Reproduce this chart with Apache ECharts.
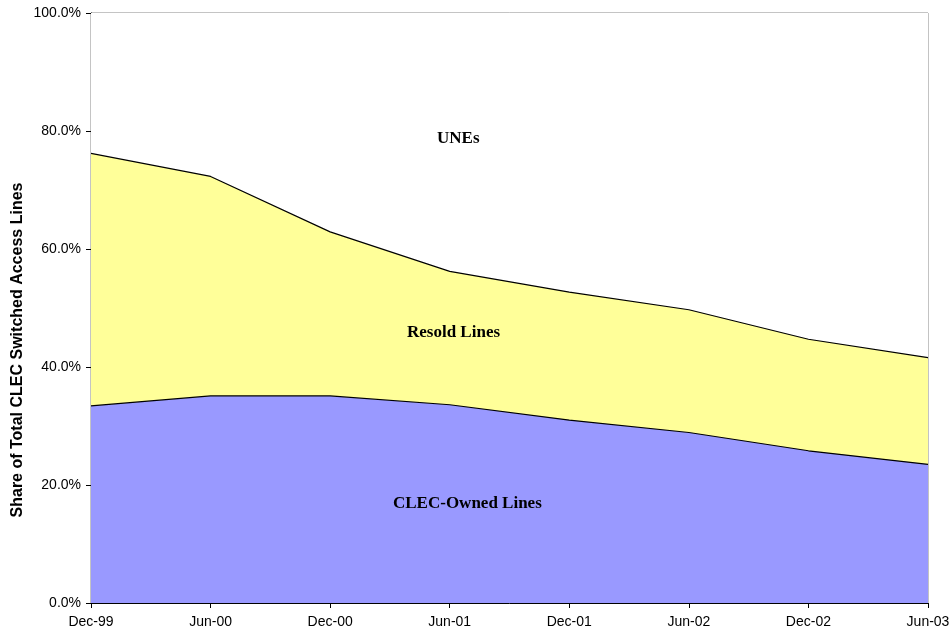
<!DOCTYPE html>
<html>
<head>
<meta charset="utf-8">
<script src="https://cdn.jsdelivr.net/npm/echarts@6/dist/echarts.min.js"></script>
<style>
  html, body { margin: 0; padding: 0; background: #fff; }
  #chart { width: 950px; height: 631px; }
</style>
</head>
<body>
<div id="chart"></div>
<script>
const categories = ['Dec-99', 'Jun-00', 'Dec-00', 'Jun-01', 'Dec-01', 'Jun-02', 'Dec-02', 'Jun-03'];
// share of total CLEC switched access lines, in %
const clecOwned = [33.4, 35.1, 35.1, 33.6, 31.0, 28.9, 25.8, 23.5];
const resold    = [42.8, 37.2, 27.8, 22.6, 21.7, 20.8, 18.9, 18.1];
const unes      = [23.8, 27.7, 37.1, 43.8, 47.3, 50.3, 55.3, 58.4];

const chart = echarts.init(document.getElementById('chart'), null, { renderer: 'canvas' });

// area labels sit inside the plot, drawn on top of the series
function areaLabel(text, x, y) {
  return {
    type: 'text', x: x, y: y, z: 100,
    style: {
      text: text, fontFamily: 'Liberation Serif', fontWeight: 'bold', fontSize: 17, fill: '#000',
      verticalAlign: 'middle'
    }
  };
}

chart.setOption({
  animation: false,
  grid: {
    left: 91, right: 22, top: 13, bottom: 28, containLabel: false, outerBoundsMode: 'none',
    show: true, borderColor: '#888', borderWidth: 1
  },
  xAxis: {
    type: 'category', data: categories, boundaryGap: false,
    axisLine: { lineStyle: { color: '#000', width: 1 } },
    axisTick: { show: true, length: 5, alignWithLabel: true, lineStyle: { color: '#000' } },
    axisLabel: { color: '#000', fontFamily: 'Liberation Sans', fontSize: 14, margin: 12, interval: 0 },
    splitLine: { show: false }
  },
  yAxis: {
    type: 'value', min: 0, max: 100, interval: 20,
    axisLine: { show: true, lineStyle: { color: '#000', width: 1 } },
    axisTick: { show: true, length: 5, lineStyle: { color: '#000' } },
    axisLabel: { color: '#000', fontFamily: 'Liberation Sans', fontSize: 14, margin: 10, formatter: v => v.toFixed(1) + '%' },
    splitLine: { show: false }
  },
  series: [
    {
      name: 'CLEC-Owned Lines', type: 'line', stack: 'total', data: clecOwned,
      symbol: 'none', lineStyle: { color: '#000', width: 1.2 },
      areaStyle: { color: '#9999FF', opacity: 1 }, z: 3
    },
    {
      name: 'Resold Lines', type: 'line', stack: 'total', data: resold,
      symbol: 'none', lineStyle: { color: '#000', width: 1.2 },
      areaStyle: { color: '#FFFF99', opacity: 1 }, z: 2
    },
    {
      name: 'UNEs', type: 'line', stack: 'total', data: unes,
      symbol: 'none', lineStyle: { width: 0 },
      areaStyle: { color: '#FFFFFF', opacity: 1 }, z: 1
    }
  ],
  graphic: [
    areaLabel('UNEs', 437, 139),
    areaLabel('Resold Lines', 407, 333),
    areaLabel('CLEC-Owned Lines', 393, 504),
    {
      type: 'text', x: 18, y: 350, rotation: Math.PI / 2, z: 100,
      style: {
        text: 'Share of Total CLEC Switched Access Lines',
        fontFamily: 'Liberation Sans', fontWeight: 'bold', fontSize: 16, fill: '#000',
        align: 'center', verticalAlign: 'middle'
      }
    }
  ]
});
</script>
</body>
</html>
